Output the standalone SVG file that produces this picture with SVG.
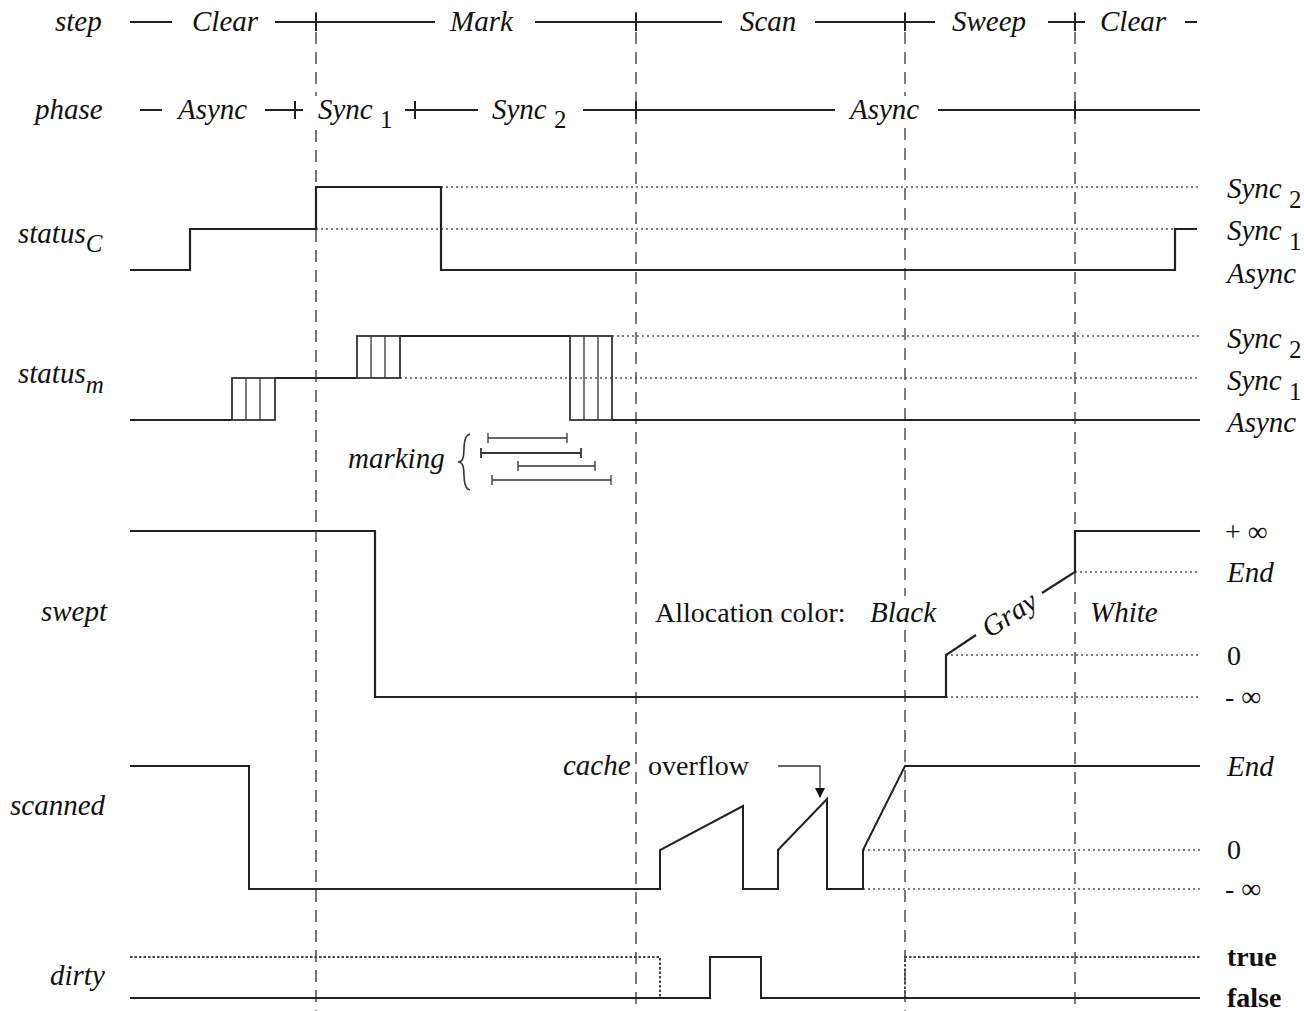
<svg xmlns="http://www.w3.org/2000/svg" width="1304" height="1011" viewBox="0 0 1304 1011">
<defs>
<style>
.t{font-family:"Liberation Serif","Times New Roman",serif;font-size:29px;font-style:italic;fill:#111}
.r{font-family:"Liberation Serif","Times New Roman",serif;font-size:28px;fill:#111}
.b{font-family:"Liberation Serif","Times New Roman",serif;font-size:28px;font-weight:bold;fill:#111}
.sub{font-size:25px;font-style:normal}
.subi{font-size:25px}
.ln{stroke:#222;stroke-width:2;fill:none}
.tr{stroke:#222;stroke-width:2.2;fill:none;stroke-linejoin:miter}
.th{stroke:#333;stroke-width:1.3;fill:none}
.da{stroke:#333;stroke-width:1.3;stroke-dasharray:12 8;fill:none}
.dt{stroke:#555;stroke-width:1.3;stroke-dasharray:2 3;fill:none}
.dd{stroke:#444;stroke-width:2;stroke-dasharray:2.5 2;fill:none}
</style>
<marker id="ah" viewBox="0 0 10 10" refX="9" refY="5" markerWidth="10" markerHeight="10" markerUnits="userSpaceOnUse" orient="auto">
<path d="M0,0 L10,5 L0,10 z" fill="#111"/>
</marker>
</defs>
<rect width="1304" height="1011" fill="#fff"/>

<g id="grid">
<path class="da" d="M316,12 V96 M316,130 V1011"/>
<path class="da" d="M636,12 V1011"/>
<path class="da" d="M905,12 V96 M905,128 V596 M905,630 V1011"/>
<path class="da" d="M1075,12 V1011"/>
</g>

<g id="step">
<text class="t" x="55" y="31">step</text>
<path class="ln" d="M130,22 H172 M275,22 H435 M535,22 H722 M815,22 H935 M1048,22 H1085 M1185,22 H1197"/>
<path class="ln" d="M316,13 V31 M636,13 V31 M905,13 V31 M1075,13 V31"/>
<text class="t" x="192" y="31">Clear</text>
<text class="t" x="450" y="31">Mark</text>
<text class="t" x="740" y="31">Scan</text>
<text class="t" x="952" y="31">Sweep</text>
<text class="t" x="1100" y="31">Clear</text>
</g>

<g id="phase">
<text class="t" x="35" y="119">phase</text>
<path class="ln" d="M140,110 H162 M265,110 H303 M405,110 H478 M583,110 H835 M938,110 H1200"/>
<path class="ln" d="M295,101 V119 M415,101 V119 M636,101 V119 M1075,101 V119"/>
<text class="t" x="178" y="119">Async</text>
<text class="t" x="318" y="119">Sync <tspan class="sub" dy="9">1</tspan></text>
<text class="t" x="492" y="119">Sync <tspan class="sub" dy="9">2</tspan></text>
<text class="t" x="850" y="119">Async</text>
</g>

<g id="statusC">
<text class="t" x="18" y="243">status<tspan class="subi" dy="9">C</tspan></text>
<path class="dt" d="M441,187 H1200 M316,229 H1175"/>
<path class="tr" d="M130,270 H190 V229 H316 V187 H441 V270 H1175 V229 H1197"/>
<text class="t" x="1227" y="198">Sync <tspan class="sub" dy="10">2</tspan></text>
<text class="t" x="1227" y="240">Sync <tspan class="sub" dy="10">1</tspan></text>
<text class="t" x="1227" y="283">Async</text>
</g>

<g id="statusM">
<text class="t" x="18" y="383">status<tspan class="subi" dy="10">m</tspan></text>
<path class="dt" d="M612,336 H1200 M400,378 H1200"/>
<path class="tr" d="M130,420 H232 M275,378 H357 M400,336 H570 M612,420 H1200"/>
<rect class="th" x="232" y="378" width="43" height="42" style="stroke-width:1.8"/>
<path class="th" d="M246,378 V420 M260,378 V420"/>
<rect class="th" x="357" y="336" width="43" height="42" style="stroke-width:1.8"/>
<path class="th" d="M371,336 V378 M385,336 V378"/>
<rect class="th" x="570" y="336" width="42" height="84" style="stroke-width:1.8"/>
<path class="th" d="M584,336 V420 M598,336 V420"/>
<text class="t" x="1227" y="348">Sync <tspan class="sub" dy="10">2</tspan></text>
<text class="t" x="1227" y="390">Sync <tspan class="sub" dy="10">1</tspan></text>
<text class="t" x="1227" y="432">Async</text>
</g>

<g id="marking">
<text class="t" x="348" y="468">marking</text>
<path class="th" d="M470,434 C462,436 465,452 463,458 C462,461 460,462 458,462 C460,462 462,463 463,466 C465,472 462,488 470,490" style="stroke-width:1.6"/>
<path class="th" d="M488,438 H567 M488,433 V443 M567,433 V443"/>
<path class="th" d="M481,453 H581 M481,448 V458 M581,448 V458" style="stroke-width:1.8"/>
<path class="th" d="M518,466 H595 M518,461 V471 M595,461 V471"/>
<path class="th" d="M492,480 H611 M492,475 V485 M611,475 V485"/>
</g>

<g id="swept">
<text class="t" x="107" y="621" text-anchor="end">swept</text>
<path class="dt" d="M1075,572 H1200 M946,655 H1200 M946,697 H1200"/>
<path class="tr" d="M130,531 H375 V697 H946 V655 L976,635 M1042,593 L1075,572 V531 H1200"/>
<text class="t" x="1009" y="624" transform="rotate(-33 1009 614)" text-anchor="middle">Gray</text>
<text class="r" x="655" y="622">Allocation color:</text>
<text class="t" x="870" y="622">Black</text>
<text class="t" x="1090" y="622">White</text>
<text class="r" x="1225" y="541">+ ∞</text>
<text class="t" x="1227" y="582">End</text>
<text class="r" x="1227" y="665">0</text>
<text class="r" x="1225" y="706">- ∞</text>
</g>

<g id="scanned">
<text class="t" x="10" y="815">scanned</text>
<path class="dt" d="M863,850 H1200 M863,889 H1200"/>
<path class="tr" d="M130,766 H249 V889 H660 V850 L743,806 V889 H778 V850 L827,799 V889 H863 V850 L905,766 H1200" style="stroke-width:2"/>
<text class="t" x="563" y="775">cache</text>
<text class="r" x="648" y="775">overflow</text>
<path class="th" d="M778,766 H820 V797" marker-end="url(#ah)"/>
<text class="t" x="1227" y="776">End</text>
<text class="r" x="1227" y="859">0</text>
<text class="r" x="1225" y="898">- ∞</text>
</g>

<g id="dirty">
<text class="t" x="50" y="985">dirty</text>
<path class="dd" d="M130,957 H660 V998 M905,998 V957 H1200"/>
<path class="tr" d="M130,998 H710 V957 H761 V998 H1200" style="stroke-width:2"/>
<text class="b" x="1227" y="966">true</text>
<text class="b" x="1227" y="1007">false</text>
</g>
</svg>
